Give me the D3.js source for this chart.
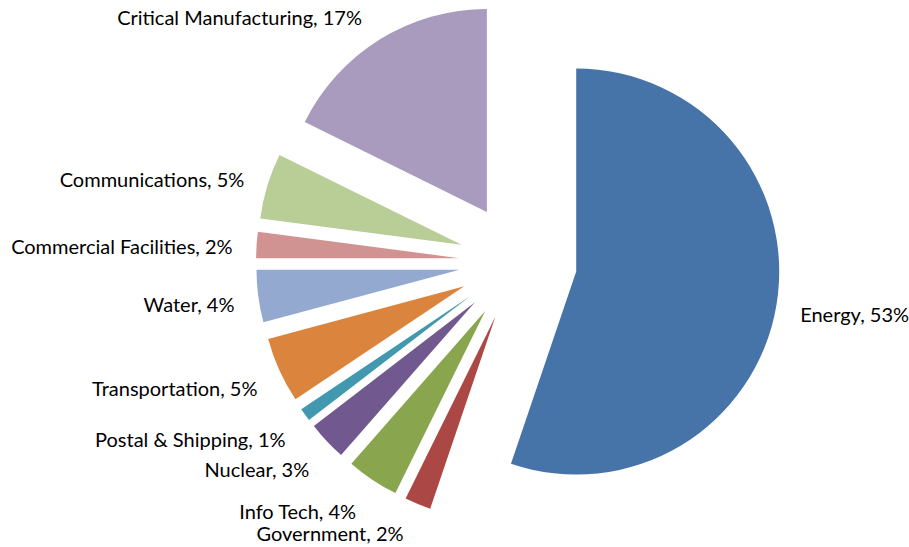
<!DOCTYPE html>
<html>
<head>
<meta charset="utf-8">
<script src="https://cdn.jsdelivr.net/npm/d3@7"></script>
<style>
  html, body { margin: 0; padding: 0; background: #ffffff; }
  svg { display: block; }
</style>
</head>
<body>
<svg id="chart" width="909" height="547"></svg>
<script>
// Sector shares (percent), drawn clockwise from 12 o'clock
const sectors = ["Energy", "Government", "Info Tech", "Nuclear", "Postal & Shipping",
                 "Transportation", "Water", "Commercial Facilities", "Communications",
                 "Critical Manufacturing"];
const shares = [53, 2, 4, 3, 1, 5, 4, 2, 5, 17];
const palette = ["#4674A9", "#AB4744", "#89A54E", "#71598F", "#4299AF",
                 "#DB843D", "#93A9CF", "#D19392", "#B9CD96", "#A99BBD"];

const width = 909, height = 547;
const cx = 518, cy = 262;      // pie centre
const radius = 203;            // slice radius
const explode = 59;            // every slice is pulled out from the centre
const labelRadius = radius + explode + 24;

// Labels nudged to keep clear of their neighbours and the frame
const labelShift = {
  "Critical Manufacturing": [-5, 5],
  "Government": [-5, -7],
  "Info Tech": [-3, -2]
};

const svg = d3.select("#chart");
const g = svg.append("g").attr("transform", `translate(${cx},${cy})`);

const data = sectors.map((name, i) => ({ name, value: shares[i], color: palette[i] }));

const pie = d3.pie().value(d => d.value).sort(null);
const arc = d3.arc().innerRadius(0).outerRadius(radius);
const arcs = pie(data);

const mid = d => (d.startAngle + d.endAngle) / 2;
const shift = d => labelShift[d.data.name] || [0, 0];

g.selectAll("path.slice")
  .data(arcs)
  .join("path")
  .attr("class", "slice")
  .attr("d", arc)
  .attr("fill", d => d.data.color)
  .attr("transform", d => {
    const a = mid(d);
    return `translate(${Math.sin(a) * explode},${-Math.cos(a) * explode})`;
  });

g.selectAll("text.label")
  .data(arcs)
  .join("text")
  .attr("class", "label")
  .attr("x", d => Math.sin(mid(d)) * labelRadius + shift(d)[0])
  .attr("y", d => -Math.cos(mid(d)) * labelRadius + 3 - 12 * Math.cos(mid(d)) + shift(d)[1])
  .attr("text-anchor", d => Math.sin(mid(d)) < 0 ? "end" : "start")
  .attr("dominant-baseline", "central")
  .attr("font-family", "Lato, 'Open Sans', sans-serif")
  .attr("font-size", 20)
  .attr("fill", "#000000")
  .text(d => `${d.data.name}, ${d.data.value}%`);
</script>
</body>
</html>
